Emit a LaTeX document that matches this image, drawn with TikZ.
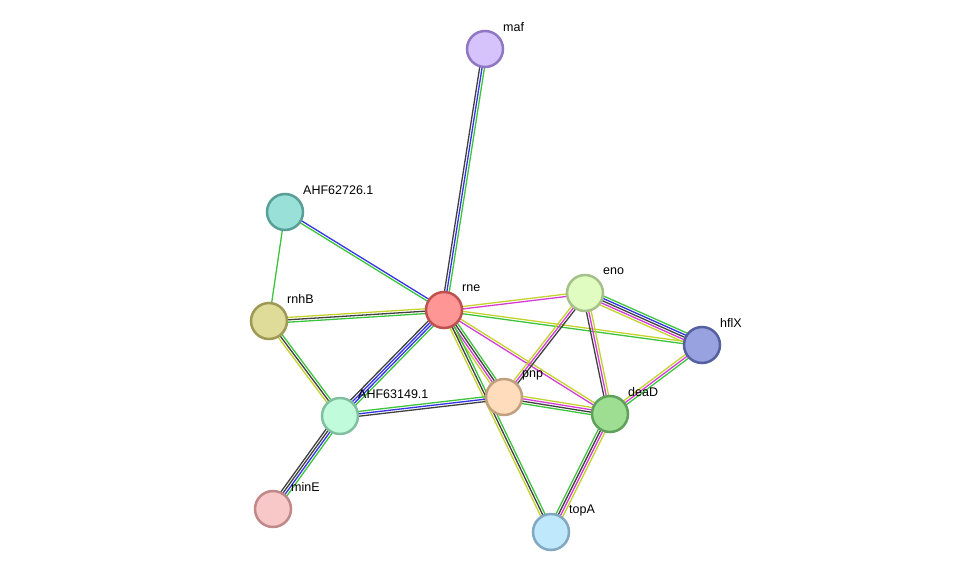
\documentclass[tikz,border=0pt]{standalone}
\usepackage{fontspec}
\setmainfont{Liberation Sans}
\usetikzlibrary{calc}
\definecolor{cg}{HTML}{3CC43C}
\definecolor{cy}{HTML}{C4D22C}
\definecolor{cm}{HTML}{D63CD6}
\definecolor{cb}{HTML}{3434E6}
\definecolor{ck}{HTML}{404040}
\tikzset{
  prot/.style={circle,minimum size=36pt,inner sep=0pt,line width=2.5pt},
  lab/.style={anchor=west,font=\fontsize{12.5}{14}\selectfont,inner sep=0pt},
  edg/.style={line width=1.3pt}
}
\newcommand{\pedge}[4]{% a b n colours
  \foreach \c [count=\i] in {#4}{
    \pgfmathsetmacro{\o}{(\i-1)*2.4-(#3-1)*1.2}
    \draw[edg,color=\c] ($(#1)!\o pt!90:(#2)$) -- ($(#2)!\o pt!-90:(#1)$);
  }}
\begin{document}
\begin{tikzpicture}[x=1pt,y=-1pt]
\useasboundingbox (0,0) rectangle (975,578);
\coordinate (maf) at (485,49);
\coordinate (ahfa) at (285,212);
\coordinate (rnhB) at (269,321);
\coordinate (rne) at (444,310);
\coordinate (eno) at (585,293);
\coordinate (hflX) at (702,345);
\coordinate (pnp) at (504,397);
\coordinate (deaD) at (610,414);
\coordinate (ahfb) at (340,416);
\coordinate (minE) at (273,509);
\coordinate (topA) at (551,532);
\pedge{rne}{maf}{3}{cg,cb,ck}
\pedge{rne}{ahfa}{2}{cb,cg}
\pedge{ahfa}{rnhB}{1}{cg}
\pedge{rne}{rnhB}{3}{cy,ck,cg}
\pedge{rne}{eno}{2}{cm,cy}
\pedge{rne}{hflX}{2}{cg,cy}
\pedge{rne}{pnp}{4}{cy,cm,ck,cg}
\pedge{rne}{deaD}{2}{cm,cy}
\pedge{rne}{topA}{3}{cy,ck,cg}
\pedge{rne}{ahfb}{4}{ck,cb,cb,cg}
\pedge{rnhB}{ahfb}{3}{cy,ck,cg}
\pedge{ahfb}{minE}{4}{ck,ck,cb,cg}
\pedge{ahfb}{pnp}{3}{ck,cb,cg}
\pedge{pnp}{eno}{3}{ck,cm,cy}
\pedge{pnp}{deaD}{4}{cg,ck,cm,cy}
\pedge{eno}{hflX}{5}{cy,cm,ck,cb,cg}
\pedge{eno}{deaD}{3}{ck,cm,cy}
\pedge{deaD}{hflX}{3}{cg,cm,cy}
\pedge{deaD}{topA}{4}{cg,ck,cm,cy}
\node[prot,fill={rgb,255:red,214;green,195;blue,251},draw={rgb,255:red,144;green,119;blue,195}] (nmaf) at (maf) {};
\node[prot,fill={rgb,255:red,152;green,224;blue,216},draw={rgb,255:red,90;green,158;blue,152}] (nahfa) at (ahfa) {};
\node[prot,fill={rgb,255:red,222;green,220;blue,152},draw={rgb,255:red,156;green,154;blue,85}] (nrnhB) at (rnhB) {};
\node[prot,fill={rgb,255:red,255;green,150;blue,150},draw={rgb,255:red,192;green,80;blue,80}] (nrne) at (rne) {};
\node[prot,fill={rgb,255:red,224;green,252;blue,192},draw={rgb,255:red,165;green,192;blue,138}] (neno) at (eno) {};
\node[prot,fill={rgb,255:red,152;green,162;blue,224},draw={rgb,255:red,85;green,96;blue,160}] (nhflX) at (hflX) {};
\node[prot,fill={rgb,255:red,254;green,220;blue,188},draw={rgb,255:red,192;green,160;blue,128}] (npnp) at (pnp) {};
\node[prot,fill={rgb,255:red,158;green,222;blue,146},draw={rgb,255:red,95;green,160;blue,90}] (ndeaD) at (deaD) {};
\node[prot,fill={rgb,255:red,192;green,252;blue,220},draw={rgb,255:red,128;green,192;blue,160}] (nahfb) at (ahfb) {};
\node[prot,fill={rgb,255:red,248;green,200;blue,200},draw={rgb,255:red,192;green,136;blue,136}] (nminE) at (minE) {};
\node[prot,fill={rgb,255:red,192;green,232;blue,252},draw={rgb,255:red,128;green,168;blue,192}] (ntopA) at (topA) {};
\node[lab] (lmaf) at ($(maf)+(18,-22)$) {maf};
\node[lab] (lahfa) at ($(ahfa)+(18,-22)$) {AHF62726.1};
\node[lab] (lrnhB) at ($(rnhB)+(18,-22)$) {rnhB};
\node[lab] (lrne) at ($(rne)+(18,-22)$) {rne};
\node[lab] (leno) at ($(eno)+(18,-22)$) {eno};
\node[lab] (lhflX) at ($(hflX)+(18,-22)$) {hflX};
\node[lab] (lpnp) at ($(pnp)+(18,-22)$) {pnp};
\node[lab] (ldeaD) at ($(deaD)+(18,-22)$) {deaD};
\node[lab] (lahfb) at ($(ahfb)+(18,-22)$) {AHF63149.1};
\node[lab] (lminE) at ($(minE)+(18,-22)$) {minE};
\node[lab] (ltopA) at ($(topA)+(18,-22)$) {topA};
\end{tikzpicture}
\end{document}
